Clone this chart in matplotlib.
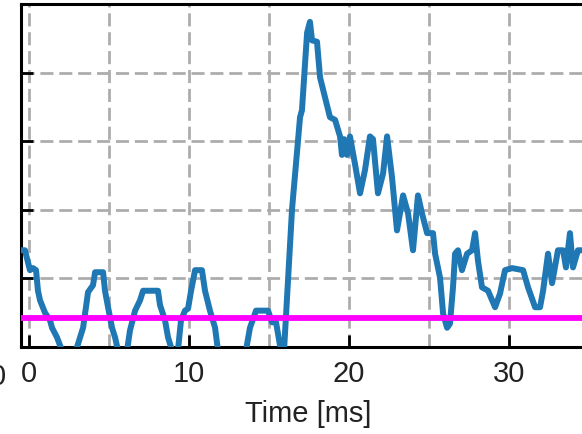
import matplotlib
matplotlib.use("Agg")
import matplotlib.pyplot as plt
from matplotlib.ticker import MultipleLocator

plt.rcParams['font.family'] = ['Liberation Sans', 'DejaVu Sans']

# Signal trace (time in ms, amplitude in grid units)
time_ms = [-0.5, -0.25, -0.06, 0.06, 0.25, 0.44, 0.56, 0.69, 1.0, 1.31, 1.44, 1.75,
           2.06, 2.94, 3.19, 3.38, 3.56, 3.69, 4.0, 4.13, 4.63, 4.75, 4.94, 5.19,
           5.38, 5.56, 6.13, 6.31, 6.63, 6.94, 7.13, 8.06, 8.19, 8.5, 8.69, 8.94,
           9.31, 9.5, 9.75, 9.94, 10.13, 10.38, 10.81, 11.0, 11.31, 11.63, 11.81,
           13.56, 13.81, 14.19, 14.94, 15.19, 15.44, 15.69, 15.94, 16.44, 16.94,
           17.06, 17.38, 17.56, 17.69, 18.0, 18.19, 18.5, 18.81, 19.13, 19.44,
           19.56, 19.69, 19.88, 20.06, 20.38, 20.69, 21.0, 21.31, 21.5, 21.81,
           22.13, 22.38, 22.69, 23.0, 23.38, 23.69, 24.0, 24.31, 24.56, 24.88,
           25.25, 25.38, 25.69, 25.88, 26.13, 26.31, 26.5, 26.63, 26.81, 27.06,
           27.38, 27.69, 27.88, 28.06, 28.31, 28.69, 29.13, 29.44, 29.75, 30.19,
           30.88, 31.19, 31.63, 31.94, 32.13, 32.44, 32.69, 33.06, 33.38, 33.56,
           33.81, 34.0, 34.31, 34.69, 35.5]
signal = [1.41, 1.41, 1.23, 1.12, 1.15, 1.12, 0.82, 0.68, 0.50, 0.39, 0.28, 0.14,
          -0.05, -0.05, 0.14, 0.28, 0.58, 0.80, 0.90, 1.09, 1.09, 0.82, 0.58, 0.28,
          0.14, -0.05, -0.05, 0.24, 0.53, 0.68, 0.82, 0.82, 0.61, 0.39, 0.14, -0.05,
          -0.05, 0.39, 0.53, 0.56, 0.82, 1.12, 1.12, 0.82, 0.53, 0.28, -0.05,
          -0.05, 0.28, 0.53, 0.53, 0.36, 0.36, 0.02, -0.05, 2.01, 3.35,
          3.45, 4.58, 4.74, 4.47, 4.45, 3.93, 3.64, 3.35, 3.31, 3.07,
          2.80, 3.03, 2.80, 3.07, 2.66, 2.24, 2.58, 3.07, 3.03, 2.24,
          2.53, 3.07, 2.47, 1.70, 2.21, 1.95, 1.41, 2.21, 1.95, 1.66,
          1.66, 1.36, 1.01, 0.49, 0.28, 0.34, 0.87, 1.36, 1.41, 1.12,
          1.36, 1.41, 1.66, 1.26, 0.87, 0.82, 0.58, 0.78, 1.12, 1.15,
          1.12, 0.87, 0.58, 0.58, 0.82, 1.36, 0.93, 1.41, 1.41, 1.16,
          1.66, 1.16, 1.41, 1.41, 1.41]
threshold = 0.42

x_major = [0, 10, 20, 30]
x_labels = ['0', '10', '20', '30']

W, H = 582, 434
fig = plt.figure(figsize=(W / 100, H / 100), dpi=100)
ax = fig.add_axes([21 / W, 1 - 347 / H, (595 - 21) / W, (347 - 4) / H])

ax.plot(time_ms, signal, color='#1f77b4', lw=4.3, solid_joinstyle='round',
        solid_capstyle='round', zorder=3)
ax.axhline(threshold, color='#ff00ff', lw=4.2, zorder=4)

ax.set_xlim(-0.5, 35.375)
ax.set_ylim(0, 5)
ax.set_xticks(x_major)
ax.set_xticklabels(x_labels)
ax.xaxis.set_minor_locator(MultipleLocator(5))
ax.yaxis.set_major_locator(MultipleLocator(1))

ax.grid(True, which='both', color='#adadad', lw=2.0, linestyle=(0, (4.7, 2.1)))
ax.set_axisbelow(True)

ax.tick_params(axis='both', which='major', direction='in', length=8.5, width=2.0,
               color='black', labelsize=21, labelcolor='#222222', pad=9)
ax.tick_params(axis='both', which='minor', length=0)
ax.tick_params(axis='y', labelleft=False)
for s in ax.spines.values():
    s.set_linewidth(2.2)
    s.set_color('black')

ax.set_xlabel('Time [ms]', fontsize=21, color='#222222', labelpad=9)

# partial tick label of a neighbouring panel at the left edge
fig.text(6 / W, 1 - 363 / H, '0', ha='right', va='top', fontsize=21, color='#222222')

fig.savefig('out.png', dpi=100)
